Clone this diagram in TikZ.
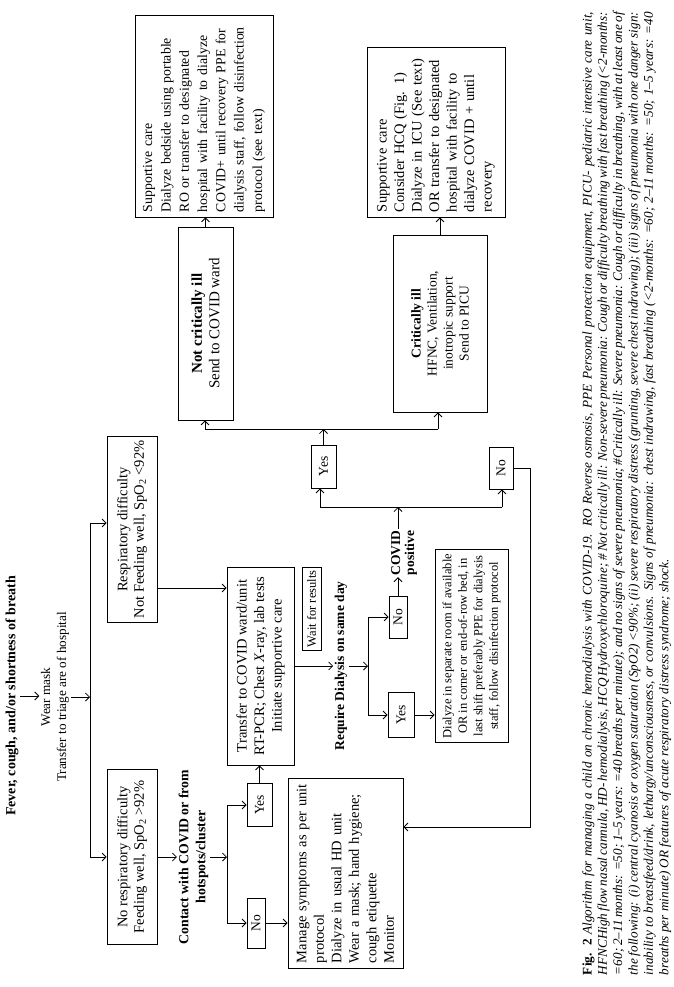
\documentclass[tikz,border=0pt]{standalone}
\usepackage{fontspec}
\setmainfont{Liberation Serif}
\usetikzlibrary{arrows.meta}
\newcommand\fsN{\fontsize{13.5}{17.5}\selectfont}
\newcommand\fsM{\fontsize{14.5}{17.5}\selectfont}
\newcommand\fsL{\fontsize{13.8}{18.3}\selectfont}
\newcommand\fsS{\fontsize{12.5}{15.5}\selectfont}
\newcommand\fsC{\fontsize{13.2}{15.35}\selectfont}
\begin{document}
\begin{tikzpicture}[x=1pt,y=-1pt,
  ln/.style={line width=0.8pt},
  arr/.style={line width=0.8pt,-{Straight Barb[length=4pt,width=8pt]}},
  box/.style={draw,line width=0.8pt,rotate=90,inner sep=4pt,font=\fsN,align=center},
  lbox/.style={draw,line width=0.8pt,rotate=90,inner xsep=5pt,inner ysep=4pt,font=\fsM,align=left},
  txt/.style={rotate=90,inner sep=1.5pt,font=\fsN,align=center},
  txtb/.style={rotate=90,inner sep=1.5pt,font=\fsN\bfseries,align=center}]
\fill[white] (0,0) rectangle (673,987);
\useasboundingbox (0,0) rectangle (673,987);

% top
\node[txtb,font=\fontsize{14}{17}\selectfont\bfseries] (fever) at (12,696) {Fever, cough, and/or shortness of breath};
\node[txt,font=\fontsize{13.2}{16}\selectfont] (wear) at (55,697) {Wear mask\\Transfer to triage are of hospital};
\draw[arr] (fever.south) -- (fever.south -| wear.north);
\coordinate (b1a) at (90,523);
\coordinate (b1b) at (90,857);
\draw[arr] (wear.south) -- (wear.south -| b1a);
\draw[ln] (b1a) -- (b1b);

\node[box,minimum width=175pt,minimum height=50pt,font=\fontsize{14.5}{16.5}\selectfont] (resp) at (132,529.5) {Respiratory difficulty\\Not Feeding well, SpO\textsubscript{2} <92\%};
\node[box,minimum width=175pt,minimum height=50pt,font=\fontsize{14.5}{16.5}\selectfont] (noresp) at (132,857) {No respiratory difficulty\\Feeding well, SpO\textsubscript{2} >92\%};
\draw[arr] (b1a) -- (b1a -| resp.north);
\draw[arr] (b1b) -- (b1b -| noresp.north);

% contact branch
\node[txtb,font=\fontsize{13.8}{17}\selectfont\bfseries] (contact) at (193.5,857) {Contact with COVID or from\\hotspots/cluster};
\draw[arr] (noresp.south) -- (noresp.south -| contact.north);
\coordinate (b2a) at (227,805);
\coordinate (b2b) at (227,923);
\draw[arr] (contact.south) -- (contact.south -| b2a);
\draw[ln] (b2a) -- (b2b);
\node[box,minimum width=43pt,minimum height=25pt,inner sep=1pt] (yes1) at (259.5,805) {Yes};
\node[box,minimum width=50pt,minimum height=18pt,inner sep=1pt] (no1) at (256,923) {No};
\draw[arr] (b2a) -- (b2a -| yes1.north);
\draw[arr] (b2b) -- (b2b -| no1.north);

\node[lbox,text width=180pt,minimum height=115pt] (manage) at (345.5,873) {Manage symptoms as per unit\\protocol\\Dialyze in usual HD unit\\Wear a mask; hand hygiene;\\cough etiquette\\Monitor};
\draw[arr] (no1.south) -- (no1.south -| manage.north);

% transfer
\node[box,minimum width=198pt,minimum height=67pt,font=\fsM] (transfer) at (260.5,666) {Transfer to COVID ward/unit\\RT-PCR; Chest \textit{X}-ray, lab tests\\Initiate supportive care};
\coordinate (r2t) at (0,588);
\draw[arr] (resp.south |- r2t) -- (transfer.north |- r2t);
\draw[arr] (yes1.east) -- (yes1.east |- transfer.west);
\node[box,anchor=east,minimum height=19pt,inner xsep=3pt,inner ysep=1pt,font=\fsS] (wait) at (311.5,567) {Wait for results};

\node[txtb] (require) at (341,666) {Require Dialysis on same day};
\draw[arr] (transfer.south |- require) -- (require.north);
\coordinate (b3a) at (368,617);
\coordinate (b3b) at (368,715);
\draw[arr] (require.south) -- (require.south -| b3a);
\draw[ln] (b3a) -- (b3b);
\node[box,minimum width=42pt,minimum height=18pt,inner sep=1pt] (no2) at (398,617) {No};
\node[box,minimum width=45pt,minimum height=26pt,inner sep=1pt] (yes2) at (401,715) {Yes};
\draw[arr] (b3a) -- (b3a -| no2.north);
\draw[arr] (b3b) -- (b3b -| yes2.north);
\node[box,minimum width=182pt,minimum height=73pt,font=\fsS] (dialyze) at (471.5,646) {Dialyze in separate room if available\\OR in corner or end-of-row bed, in\\last shift preferably PPE for dialysis\\staff, follow disinfection protocol};
\draw[arr] (yes2.south) -- (yes2.south -| dialyze.north);

\node[txtb,font=\fontsize{13.5}{14}\selectfont\bfseries] (covid) at (404,553) {COVID\\positive};
\coordinate (b4a) at (320,507);
\coordinate (b4b) at (502,507);
\draw[arr] (no2.east) -- (no2.east |- covid.west);
\draw[arr] (no2.east |- covid.east) -- (no2.east |- b4a);
\draw[ln] (b4a) -- (b4b);
\node[box,minimum width=43pt,minimum height=25pt,inner sep=1pt] (yes3) at (323.5,466.5) {Yes};
\node[box,minimum width=42pt,minimum height=24pt,inner sep=1pt] (no3) at (501,468) {No};
\draw[arr] (b4a) -- (b4a |- yes3.west);
\draw[arr] (b4b) -- (b4b |- no3.west);
\coordinate (b5a) at (205,429);
\coordinate (b5b) at (438,429);
\draw[arr] (yes3.east) -- (yes3.east |- b5a);
\draw[ln] (b5a) -- (b5b);

\node[box,minimum width=193pt,minimum height=55pt,font=\fontsize{15}{17.5}\selectfont] (notcrit) at (205.5,323.5) {\textbf{Not critically ill}\\Send to COVID ward};
\node[box,minimum width=177pt,minimum height=94pt,font=\fontsize{13.5}{16}\selectfont] (crit) at (440,323.5) {\textbf{Critically ill}\\HFNC, Ventilation,\\inotropic support\\Send to PICU};
\draw[arr] (b5a) -- (b5a |- notcrit.west);
\draw[arr] (b5b) -- (b5b |- crit.west);

\node[lbox,text width=192pt,minimum height=138pt,font=\fsL] (supp1) at (204,116) {Supportive care\\Dialyze bedside using portable\\RO or transfer to designated\\hospital with facility to dialyze\\COVID+ until recovery PPE for\\dialysis staff, follow disinfection\\protocol (see text)};
\node[lbox,text width=160pt,minimum height=138pt] (supp2) at (436,132) {Supportive care\\Consider HCQ (Fig. 1)\\Dialyze in ICU (See text)\\OR transfer to designated\\hospital with facility to\\dialyze COVID + until\\recovery};
\draw[arr] (notcrit.east) -- (notcrit.east |- supp1.west);
\draw[arr] (crit.east) -- (crit.east |- supp2.west);

\coordinate (lp) at (530,827);
\draw[arr] (no3.south) -| (lp) -- (manage.south |- lp);

% caption
\node[rotate=90,anchor=north,text width=963pt,align=justify,inner sep=0pt,font=\fsC\itshape] (cap) at (582,493.5) {{\upshape\bfseries Fig. 2} Algorithm for managing a child on chronic hemodialysis with COVID-19. RO Reverse osmosis, PPE Personal protection equipment, PICU- pediatric intensive care unit,\linebreak
HFNCHigh flow nasal cannula, HD- hemodialysis, HCQ Hydroxychloroquine; \# Not critically ill: Non-severe pneumonia: Cough or difficulty breathing with fast breathing (<2-months:\linebreak
=60; 2–11 months: =50; 1–5 years: =40 breaths per minute); and no signs of severe pneumonia; \#Critically ill: Severe pneumonia: Cough or difficulty in breathing, with at least one of\linebreak
the following: (i) central cyanosis or oxygen saturation (SpO2) <90\%; (ii) severe respiratory distress (grunting, severe chest indrawing); (iii) signs of pneumonia with one danger sign:\linebreak
inability to breastfeed/drink, lethargy/unconsciousness, or convulsions. Signs of pneumonia: chest indrawing, fast breathing (<2-months: =60; 2–11 months: =50; 1–5 years: =40\linebreak
breaths per minute) OR features of acute respiratory distress syndrome; shock.};
\end{tikzpicture}
\end{document}
